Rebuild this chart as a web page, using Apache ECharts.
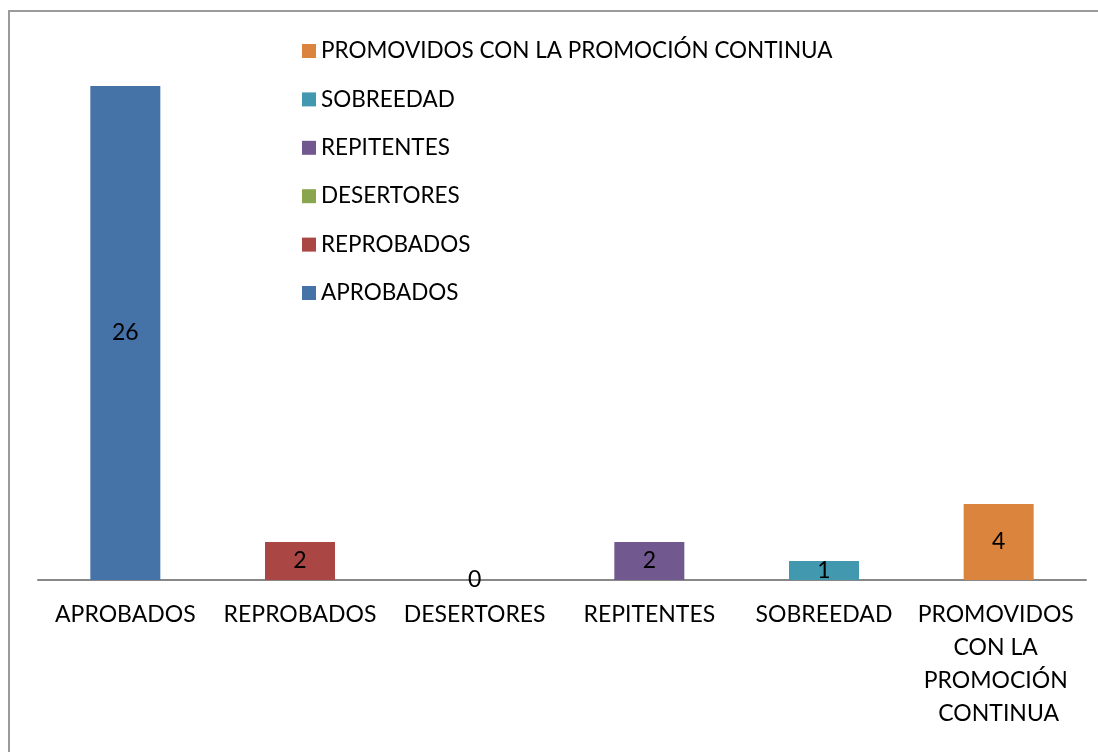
<!DOCTYPE html>
<html>
<head>
<meta charset="utf-8">
<script src="https://cdn.jsdelivr.net/npm/echarts@6/dist/echarts.min.js"></script>
<style>
  html, body { margin: 0; padding: 0; background: #fff; }
  #chart { width: 1098px; height: 752px; }
</style>
</head>
<body>
<div id="chart"></div>
<script>
const categories = ["APROBADOS", "REPROBADOS", "DESERTORES", "REPITENTES", "SOBREEDAD", "PROMOVIDOS CON LA PROMOCIÓN CONTINUA"];
const values = [26, 2, 0, 2, 1, 4];
const colors = ["#4572A7", "#AA4643", "#89A54E", "#71588F", "#4198AF", "#DB843D"];

const FONT = "Lato";

// one series per category, so each bar gets its own legend entry
const series = categories.map((name, i) => ({
  name: name,
  type: "bar",
  stack: "all",
  barWidth: 70,
  itemStyle: { color: colors[i] },
  label: {
    show: true,
    position: "inside",
    color: "#000",
    fontFamily: FONT,
    fontSize: 23,
  },
  data: values.map((v, j) => (j === i ? v : "-")),
}));

const myChart = echarts.init(document.getElementById("chart"));
myChart.setOption({
  animation: false,
  textStyle: { fontFamily: FONT },
  graphic: [
    {
      type: "rect",
      shape: { x: 9, y: 11, width: 1200, height: 800 },
      style: { fill: "none", stroke: "#9a9a9a", lineWidth: 2 },
      silent: true,
      z: -1,
    },
  ],
  legend: {
    orient: "vertical",
    left: 297,
    top: 34,
    itemWidth: 14,
    itemHeight: 14,
    itemGap: 24.4,
    icon: "rect",
    data: categories.slice().reverse(),
    textStyle: {
      fontFamily: FONT,
      fontSize: 22.5,
      color: "#000",
      lineHeight: 24,
    },
  },
  grid: { left: 38, right: 12, top: 10, bottom: 172 },
  xAxis: {
    type: "category",
    data: categories,
    axisLine: { lineStyle: { color: "#888", width: 2 } },
    axisTick: { show: false },
    axisLabel: {
      interval: 0,
      margin: 18,
      color: "#000",
      fontFamily: FONT,
      fontSize: 23,
      lineHeight: 33,
      width: 170,
      overflow: "break",
    },
  },
  yAxis: {
    type: "value",
    min: 0,
    max: 30,
    show: false,
    splitLine: { show: false },
  },
  series: series,
});
</script>
</body>
</html>
